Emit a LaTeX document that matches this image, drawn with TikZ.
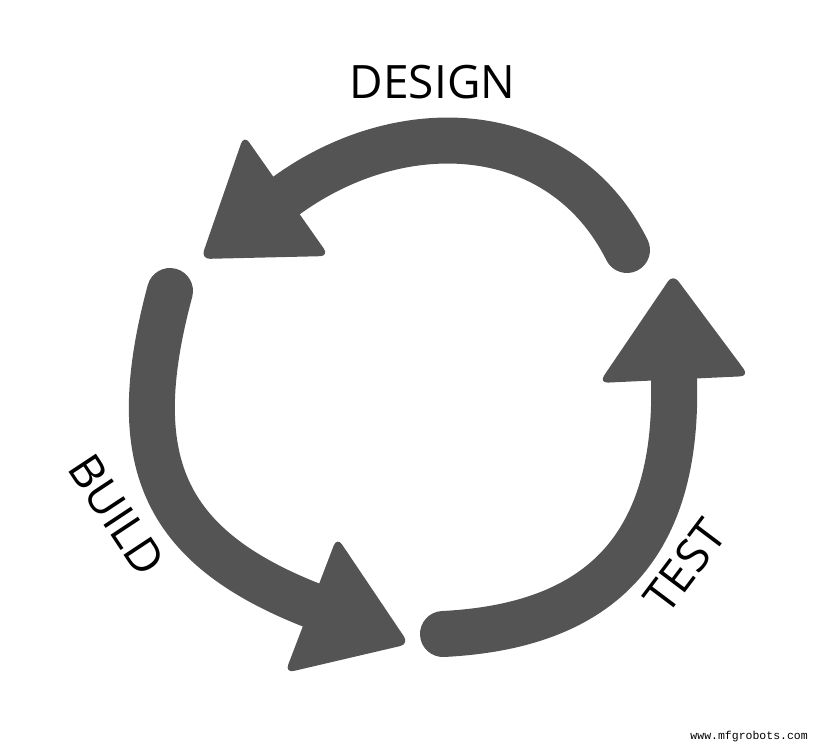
\documentclass[tikz,border=0pt]{standalone}
\usepackage{fontspec}
\setmainfont{Open Sans}
\newfontfamily\wmfont{Liberation Mono}
\definecolor{arrowgrey}{HTML}{545454}
\tikzset{
  band/.style={draw=arrowgrey, line width=46pt, line cap=round},
  headtri/.style={fill=arrowgrey, rounded corners=9pt},
  label/.style={font=\fontsize{46}{50}\selectfont, text=black, inner sep=0pt},
}
\begin{document}
\begin{tikzpicture}[x=1pt,y=-1pt]
\useasboundingbox (0,0) rectangle (820,747);
% coordinates
\coordinate (tailD) at (627,250);
\coordinate (baseD) at (286.5,195.5);
\coordinate (tailB) at (170,291);
\coordinate (baseB) at (311,605);
\coordinate (tailT) at (443,634);
\coordinate (baseT) at (674,379);
% DESIGN arrow
\draw[band] (tailD) .. controls (562,120) and (403,111) .. (baseD);
\fill[headtri] (244,135) -- (201,259) -- (329,256) -- cycle;
% BUILD arrow
\draw[band] (tailB) .. controls (124.5,460) and (162,546) .. (baseB);
\fill[headtri] (337,537) -- (409,644) -- (285,673) -- cycle;
% TEST arrow
\draw[band] (tailT) .. controls (593,626.5) and (679,554) .. (baseT);
\fill[headtri] (673,274) -- (749,376) -- (599,383) -- cycle;
% labels
\node[label] (design) at (432.5,82) {DESIGN};
\node[label, rotate=-56.5] (build) at (116.5,515) {BUILD};
\node[label, rotate=53] (test) at (685,566) {TEST};
\node[font=\wmfont\fontsize{11.5}{12}\selectfont, inner sep=0pt, anchor=east] (wm) at (808,737) {www.mfgrobots.com};
\end{tikzpicture}
\end{document}
